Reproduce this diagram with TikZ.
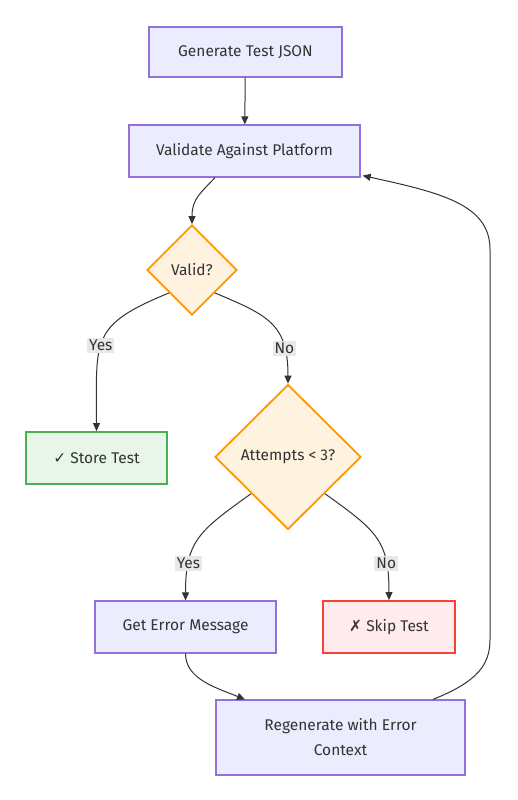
\documentclass[tikz,border=0pt]{standalone}
\usepackage{fontspec}
\setmainfont{Fira Sans}
\newfontfamily\symbolfont{DejaVu Sans}
\usepackage{tikz}
\usetikzlibrary{shapes.geometric,arrows.meta}
\definecolor{boxfill}{HTML}{ECECFF}
\definecolor{boxline}{HTML}{9370DB}
\definecolor{decfill}{HTML}{FFF3E0}
\definecolor{decline}{HTML}{FF9800}
\definecolor{okfill}{HTML}{E8F5E9}
\definecolor{okline}{HTML}{4CAF50}
\definecolor{skipfill}{HTML}{FFEBEE}
\definecolor{skipline}{HTML}{F44336}
\definecolor{edgecol}{HTML}{333333}
\definecolor{labelfill}{HTML}{E8E8E8}
\tikzstyle{arrow} = [line width=1pt,edgecol,->,>={Stealth[length=8pt,width=7pt,inset=0pt]}]
\tikzstyle{process} = [rectangle, draw=boxline, fill=boxfill, text=edgecol, inner sep=0pt, line width=1.2pt]
\tikzstyle{decision} = [diamond, draw=decline, fill=decfill, text=edgecol, inner sep=0pt, line width=1.8pt, aspect=1]
\tikzstyle{okbox} = [process, draw=okline, fill=okfill, line width=1.8pt]
\tikzstyle{skipbox} = [process, draw=skipline, fill=skipfill, line width=1.8pt]
\tikzstyle{edgelabel} = [fill=labelfill, text=edgecol, inner sep=2pt]

\begin{document}
\begin{tikzpicture}[x=1pt, y=-1pt, font=\fontsize{15.5}{25}\selectfont]
            \fill[white] (0,0) rectangle (517,800);
            \useasboundingbox (0,0) rectangle (517,800);

            \node (gen) [process, minimum width=193pt, minimum height=50pt] at (245.5,52) {Generate Test JSON};
            \node (val) [process, below of=gen, node distance=99pt, xshift=-1pt, minimum width=231pt, minimum height=52pt] {Validate Against Platform};
            \node (validq) [decision, below of=val, node distance=119pt, xshift=-52.5pt, minimum width=90pt, minimum height=90pt] {Valid?};
            \node (store) [okbox, below of=validq, node distance=188pt, xshift=-95.5pt, minimum width=141pt, minimum height=52pt] {{\symbolfont ✓} Store Test};
            \node (attq) [decision, below of=validq, node distance=187pt, xshift=96pt, minimum width=146pt, minimum height=145pt] {Attempts < 3?};
            \node (geterr) [process, below of=attq, node distance=170pt, xshift=-102.5pt, minimum width=181pt, minimum height=52pt] {Get Error Message};
            \node (skip) [skipbox, below of=attq, node distance=170pt, xshift=101pt, minimum width=132pt, minimum height=52pt] {{\symbolfont ✗} Skip Test};
            \node (regen) [process, below of=geterr, node distance=110.5pt, xshift=155pt, minimum width=249pt, minimum height=75pt, align=center] {Regenerate with Error\\Context};

            \draw [arrow] (gen) -- (val);
            \draw [arrow] ([xshift=-29.5pt]val.south) .. controls +(-15,16) and +(0,-25) .. (validq.north);
            \draw [arrow] (validq.south west) .. controls +(-79.5,32.5) and +(0,-92) .. node[pos=0.55, edgelabel] {Yes} (store.north);
            \draw [arrow] (validq.south east) .. controls +(53.5,22.5) and +(0,-59.5) .. node[pos=0.76, edgelabel] {No} (attq.north);
            \draw [arrow] (attq.south west) .. controls +(-51.5,37) and +(0,-60) .. node[pos=0.75, edgelabel] {Yes} (geterr.north);
            \draw [arrow] (attq.south east) .. controls +(51.5,37) and +(0,-60) .. node[pos=0.75, edgelabel] {No} (skip.north);
            \draw [arrow] (geterr.south) .. controls +(0,25) and +(-30,-12) .. ([xshift=-95.5pt]regen.north);
            \draw [arrow] ([xshift=92.5pt]regen.north) .. controls +(45,-18) and +(0,25) .. ++(57,-60) -- ++(0,-390) .. controls +(0,-45) and +(78,17) .. ([xshift=2pt,yshift=2pt]val.south east);

        \end{tikzpicture}
\end{document}
